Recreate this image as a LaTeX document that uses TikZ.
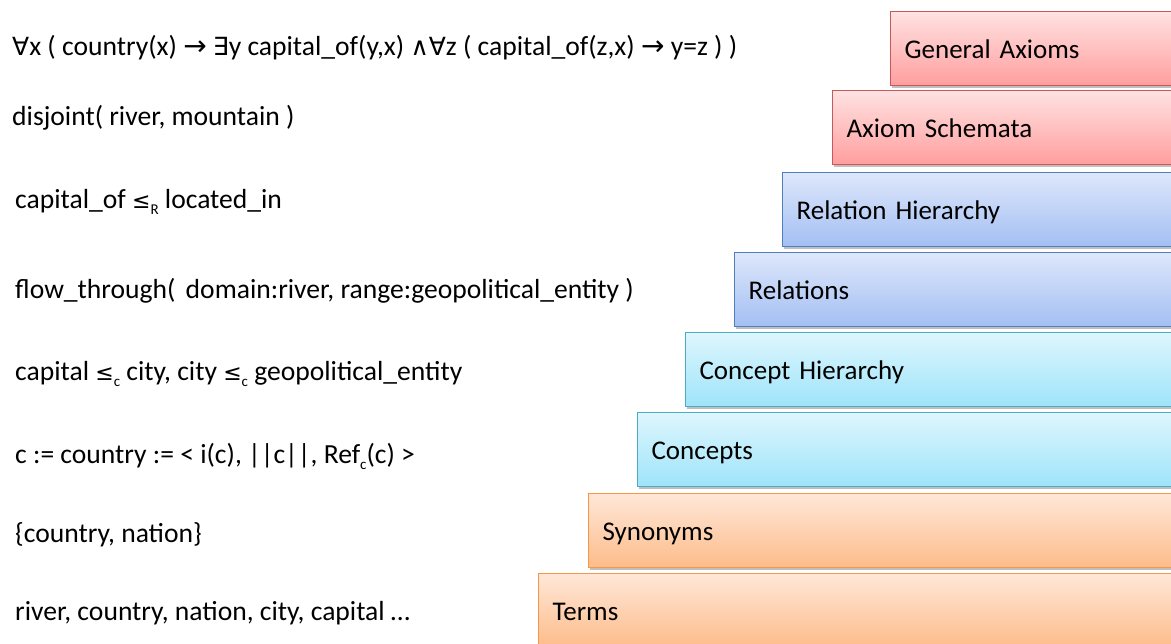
\documentclass[tikz,border=0pt]{standalone}
\usepackage{fontspec}
\setmainfont{Carlito}
\newfontfamily\symf{DejaVu Sans}
\usetikzlibrary{shadows}
\definecolor{redtop}{HTML}{FFE2E2}
\definecolor{redbot}{HTML}{FF9E9E}
\definecolor{redline}{HTML}{C9585A}
\definecolor{bluetop}{HTML}{DEE7FB}
\definecolor{bluebot}{HTML}{A3BFF3}
\definecolor{blueline}{HTML}{4F7FBD}
\definecolor{cyantop}{HTML}{DEF6FD}
\definecolor{cyanbot}{HTML}{9EE4FA}
\definecolor{cyanline}{HTML}{4BACC6}
\definecolor{orgtop}{HTML}{FEE7D8}
\definecolor{orgbot}{HTML}{FDBC8A}
\definecolor{orgline}{HTML}{F79646}
\newcommand{\sy}[1]{{\symf\fontsize{25}{25}\selectfont #1}}
\newcommand{\subleq}{{\symf\fontsize{22}{22}\selectfont ≤}}
\newcommand{\arr}{{\symf\fontsize{28}{28}\selectfont →}}
\newcommand{\sbs}[1]{\raisebox{-.45ex}{\fontsize{15}{15}\selectfont #1}}

\begin{document}
\begin{tikzpicture}[x=1pt, y=-1pt,
    every node/.style={font=\fontsize{27}{32}\selectfont},
    txt/.style={anchor=base west, inner sep=0pt, font=\fontsize{27.6}{32}\selectfont},
    layer/.style={anchor=north west, minimum height=74pt, inner xsep=14pt,
        text height=20pt, text depth=1pt, align=left, line width=1.2pt,
        drop shadow={shadow xshift=1.5pt, shadow yshift=-2pt, fill=black, opacity=.25}},
    axiom/.style={layer, draw=redline, top color=redtop, bottom color=redbot},
    rel/.style={layer, draw=blueline, top color=bluetop, bottom color=bluebot},
    con/.style={layer, draw=cyanline, top color=cyantop, bottom color=cyanbot},
    term/.style={layer, draw=orgline, top color=orgtop, bottom color=orgbot}]
    \useasboundingbox (0,0) rectangle (1171,644);
    \clip (0,0) rectangle (1171,644);
    \foreach \nm/\x/\y/\sty/\lab [evaluate=\x as \tw using 1200-\x-28] in
        {ga/890/11/axiom/General Axioms, as/832/90/axiom/Axiom Schemata,
         rh/782/172/rel/Relation Hierarchy, re/734/252/rel/Relations,
         ch/685/332/con/Concept Hierarchy, co/637/412/con/Concepts,
         sy/588/493/term/Synonyms, te/538/573/term/Terms}
        \node[\sty, text width=\tw pt] (\nm) at (\x,\y) {\lab};
    \node[txt] (ga-ex) at (12,56) {\sy{∀}x ( country(x) \arr{} \sy{∃}y capital\_of(y,x) \sy{∧}\sy{∀}z ( capital\_of(z,x) \arr{} y=z ) )};
    \node[txt] (as-ex) at (12,126) {disjoint( river, mountain )};
    \node[txt] (rh-ex) at (15,209) {capital\_of \subleq\sbs{R} located\_in};
    \node[txt] (re-ex) at (15,299) {flow\_through(\kern4pt\ domain:river, range:geopolitical\_entity )};
    \node[txt] (ch-ex) at (15,381) {capital \subleq\sbs{c} city, city \subleq\sbs{c} geopolitical\_entity};
    \node[txt] (co-ex) at (15,464) {c := country := < i(c), ||c||, Ref\sbs{c}(c) >};
    \node[txt] (sy-ex) at (15,542) {\{country, nation\}};
    \node[txt] (te-ex) at (15,620) {river, country, nation, city, capital …};
\end{tikzpicture}
\end{document}
